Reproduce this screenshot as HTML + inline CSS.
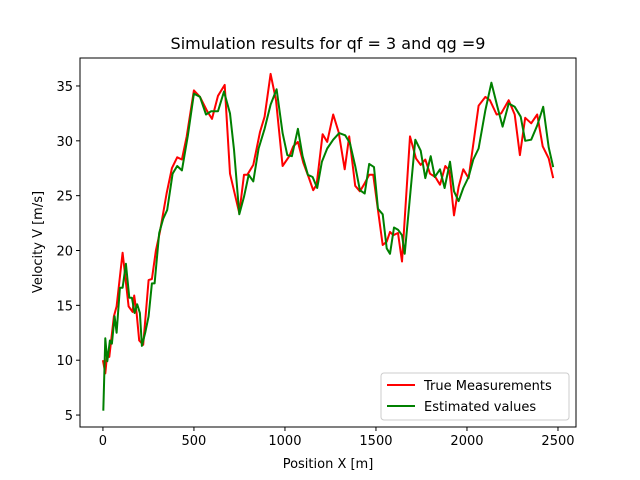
<!DOCTYPE html>
<html><head><meta charset="utf-8"><style>
body{margin:0;background:#fff;}
svg{display:block;font-family:"DejaVu Sans","Liberation Sans",sans-serif;}
</style></head><body>
<svg id="chart" width="640" height="480">
<rect width="640" height="480" fill="#fff"/>
<text x="328" y="49" text-anchor="middle" font-size="16">Simulation results for qf = 3 and qg =9</text>
<g id="ticks"></g>
<g id="series"></g>
<rect x="80" y="58" width="496" height="369" fill="none" stroke="#000" stroke-width="1"/>
<text x="328" y="468" text-anchor="middle" font-size="13">Position X [m]</text>
<text transform="translate(42,242) rotate(-90)" text-anchor="middle" font-size="13">Velocity V [m/s]</text>
<g>
<rect x="381" y="373" width="188" height="47" rx="3" fill="#fff" fill-opacity="0.8" stroke="#ccc"/>
<g>
<line x1="387" y1="385" x2="415" y2="385" stroke="#ff0000" stroke-width="2"/>
<text x="424" y="390" font-size="13">True Measurements</text></g>
<g>
<line x1="387" y1="406" x2="415" y2="406" stroke="#008000" stroke-width="2"/>
<text x="424" y="411" font-size="13">Estimated values</text></g>
</g>
</svg>
<script>
const xTicks=[0,500,1000,1500,2000,2500];
const yTicks=[5,10,15,20,25,30,35];
const trueX=[0,13,24,35,60,75,108,141,163,172,185,199,221,251,269,291,313,350,379,408,434,460,500,533,573,599,632,669,698,749,775,793,826,863,888,921,951,987,1024,1046,1071,1101,1130,1155,1174,1207,1232,1265,1295,1328,1353,1386,1412,1434,1463,1485,1537,1559,1577,1595,1621,1643,1687,1720,1746,1771,1797,1826,1852,1881,1903,1929,1954,1980,2009,2064,2101,2126,2163,2188,2229,2262,2291,2320,2353,2386,2416,2449,2474];
const trueV=[10.0,8.8,10.7,10.3,14.0,14.9,19.8,14.9,14.4,15.9,14.3,11.8,11.4,17.3,17.4,20.0,21.7,25.2,27.5,28.5,28.3,30.4,34.6,34.0,32.7,32.0,34.1,35.1,27.0,23.4,26.9,26.9,27.8,30.8,32.2,36.1,33.7,27.7,28.6,29.5,29.9,28.0,26.7,25.5,26.0,30.6,29.9,32.4,30.8,27.4,30.4,25.9,25.4,26.0,26.9,26.9,20.5,20.8,21.7,21.4,21.6,19.0,30.4,28.4,27.8,28.3,27.0,26.7,26.0,27.7,27.3,23.2,25.8,27.4,26.6,33.2,34.0,33.7,32.4,32.5,33.7,32.4,28.7,32.1,31.6,32.4,29.5,28.4,26.6];
const estX=[2,13,24,38,49,64,75,93,108,126,145,159,174,188,203,214,232,251,269,284,309,331,353,383,408,434,467,500,533,566,595,632,665,698,720,749,775,801,826,855,888,921,954,987,1013,1038,1071,1097,1126,1152,1177,1203,1232,1265,1298,1331,1357,1386,1412,1438,1463,1489,1511,1537,1559,1577,1599,1621,1643,1658,1716,1746,1771,1801,1823,1852,1877,1907,1929,1954,1980,2009,2035,2064,2101,2134,2167,2196,2229,2262,2295,2320,2353,2386,2419,2449,2474];
const estV=[5.4,12.0,9.9,11.8,11.5,14.0,12.5,16.6,16.6,18.8,15.7,15.7,14.3,15.1,14.3,11.3,12.5,14.0,17.0,17.0,21.6,22.9,23.7,27.0,27.7,27.3,30.5,34.3,34.0,32.4,32.7,32.7,34.5,32.5,29.2,23.3,24.9,26.9,26.3,29.3,31.1,33.3,34.7,30.7,28.7,28.6,31.1,28.6,26.9,26.7,25.7,28.1,29.3,30.1,30.7,30.5,29.8,27.7,25.5,25.2,27.9,27.6,23.8,23.3,20.2,19.7,22.1,21.9,21.4,19.7,30.1,29.1,26.6,28.6,26.7,27.4,25.7,28.1,25.4,24.5,25.7,26.7,28.3,29.3,32.8,35.3,33.1,31.3,33.4,33.1,32.2,30.0,30.1,31.4,33.1,29.4,27.6];
const NS='http://www.w3.org/2000/svg';
const L=80,R=576,T=58,B=427,XMIN=-126,XMAX=2599,YMIN=3.91,YMAX=37.55;
function sx(v){return L+(v-XMIN)/(XMAX-XMIN)*(R-L);}
function sy(v){return B-(v-YMIN)/(YMAX-YMIN)*(B-T);}
const tg=document.getElementById('ticks');
xTicks.forEach(t=>{
 const l=document.createElementNS(NS,'line');
 l.setAttribute('x1',sx(t));l.setAttribute('x2',sx(t));l.setAttribute('y1',B);l.setAttribute('y2',B+4);l.setAttribute('stroke','#000');
 
 
 tg.appendChild(l);
 const tx=document.createElementNS(NS,'text');
 tx.setAttribute('x',sx(t));tx.setAttribute('y',B+18);tx.setAttribute('text-anchor','middle');tx.setAttribute('font-size','13');
 tx.textContent=t;
 
 
 tg.appendChild(tx);
});
yTicks.forEach(t=>{
 const l=document.createElementNS(NS,'line');
 l.setAttribute('x1',L-4);l.setAttribute('x2',L);l.setAttribute('y1',sy(t));l.setAttribute('y2',sy(t));l.setAttribute('stroke','#000');
 
 
 tg.appendChild(l);
 const tx=document.createElementNS(NS,'text');
 tx.setAttribute('x',L-7);tx.setAttribute('y',sy(t)+5);tx.setAttribute('text-anchor','end');tx.setAttribute('font-size','13');
 tx.textContent=t;
 
 
 tg.appendChild(tx);
});
const sg=document.getElementById('series');
function line(xs,ys,color){
 const p=document.createElementNS(NS,'polyline');
 p.setAttribute('points',xs.map((x,i)=>sx(x).toFixed(1)+','+sy(ys[i]).toFixed(1)).join(' '));
 p.setAttribute('fill','none');p.setAttribute('stroke',color);p.setAttribute('stroke-width','2');p.setAttribute('stroke-linejoin','round');
 return p;
}
const p1=line(trueX,trueV,'#ff0000');


sg.appendChild(p1);
const p2=line(estX,estV,'#008000');


sg.appendChild(p2);
</script>
</body></html>
